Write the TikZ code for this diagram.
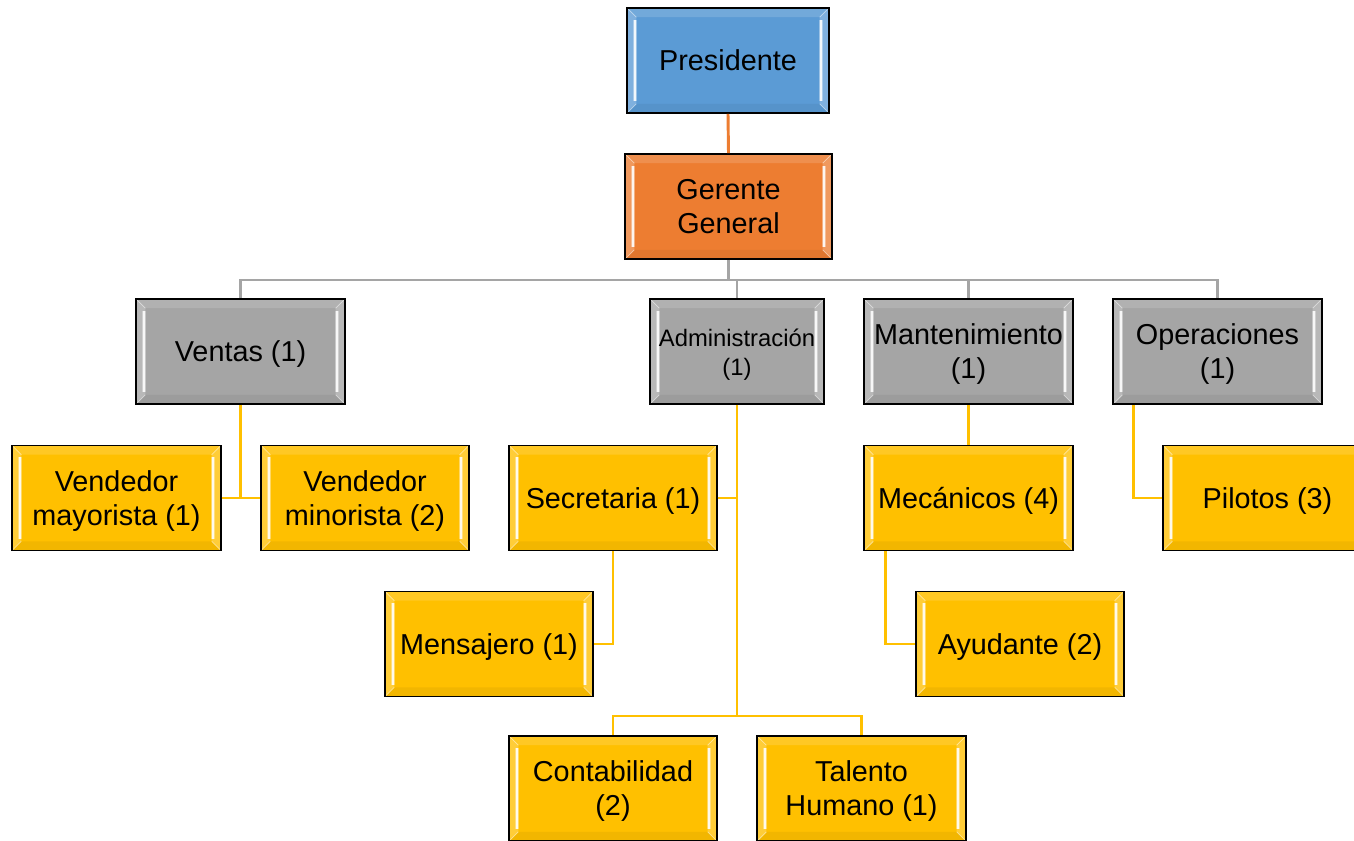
\documentclass[tikz,border=0pt]{standalone}
\usepackage{fontspec}
\setmainfont{Liberation Sans}
\usetikzlibrary{calc}
\definecolor{cblue}{HTML}{5B9BD5}
\definecolor{corange}{HTML}{ED7D31}
\definecolor{cgray}{HTML}{A5A5A5}
\definecolor{cyellow}{HTML}{FFC000}
\definecolor{cline}{HTML}{A5A5A5}
\newcommand\tx[1]{\raisebox{-2.4pt}[\height][\depth]{\begin{tabular}{@{}c@{}}#1\end{tabular}}}
\tikzset{
  bevelpic/.style={path picture={
    \path (path picture bounding box.north west) coordinate (bnw)
          (path picture bounding box.north east) coordinate (bne)
          (path picture bounding box.south west) coordinate (bsw)
          (path picture bounding box.south east) coordinate (bse);
    \fill[white,opacity=.14] (bnw) -- (bne) -- ([shift={(-7pt,-7pt)}]bne) -- ([shift={(7pt,-7pt)}]bnw) -- cycle;
    \fill[black,opacity=.05] (bsw) -- (bse) -- ([shift={(-7pt,7pt)}]bse) -- ([shift={(7pt,7pt)}]bsw) -- cycle;
    \fill[white,opacity=.22] (bnw) -- ([shift={(7pt,-7pt)}]bnw) -- ([shift={(7pt,7pt)}]bsw) -- (bsw) -- cycle;
    \fill[white,opacity=.22] (bne) -- ([shift={(-7pt,-7pt)}]bne) -- ([shift={(-7pt,7pt)}]bse) -- (bse) -- cycle;
    \draw[white,opacity=.35,line width=3.5pt] ([shift={(6pt,-9pt)}]bnw) -- ([shift={(6pt,9pt)}]bsw);
    \draw[white,opacity=.35,line width=3.5pt] ([shift={(-6pt,-9pt)}]bne) -- ([shift={(-6pt,9pt)}]bse);
    \draw[white,opacity=.85,line width=1.4pt] ([shift={(6pt,-9pt)}]bnw) -- ([shift={(6pt,9pt)}]bsw);
    \draw[white,opacity=.85,line width=1.4pt] ([shift={(-6pt,-9pt)}]bne) -- ([shift={(-6pt,9pt)}]bse);
    \draw[white,opacity=.5,line width=.6pt] (bnw) -- ([shift={(7pt,-7pt)}]bnw) (bsw) -- ([shift={(7pt,7pt)}]bsw)
      (bne) -- ([shift={(-7pt,-7pt)}]bne) (bse) -- ([shift={(-7pt,7pt)}]bse);
  }},
  box/.style={draw=black, line width=1.1pt, minimum height=79pt, inner sep=0pt,
    align=center, font=\fontsize{21.6}{25.5}\selectfont, bevelpic},
  blu/.style={box, fill=cblue},
  org/.style={box, fill=corange},
  gry/.style={box, fill=cgray},
  yel/.style={box, fill=cyellow},
  w/.style={minimum width=#1*0.75pt},
  yline/.style={draw=cyellow, line width=2.2pt},
  gline/.style={draw=cline, line width=2.2pt},
  oline/.style={draw=corange, line width=2.2pt},
}
\begin{document}
\begin{tikzpicture}[x=0.75pt,y=-0.75pt]
\useasboundingbox[fill=white] (0,0) rectangle (1354,840);
\coordinate (gbus) at (728.5,280);
\coordinate (abus) at (737,716);
\node[blu, w=202] (pres) at (728,60.5) {\tx{Presidente}};
\node[org, w=207] (ger) at (728.5,206.5) {\tx{Gerente\\General}};
\node[gry, w=209] (ven) at (240.5,351.5) {\tx{Ventas (1)}};
\node[gry, w=174, font=\fontsize{17.85}{21.75}\selectfont] (adm) at (737,351.5) {\tx{Administración\\(1)}};
\node[gry, w=209] (man) at (968.5,351.5) {\tx{Mantenimiento\\(1)}};
\node[gry, w=209] (ope) at (1217.5,351.5) {\tx{Operaciones\\(1)}};
\node[yel, w=209] (vmay) at (116.5,498) {\tx{Vendedor\\mayorista (1)}};
\node[yel, w=208] (vmin) at (365,498) {\tx{Vendedor\\minorista (2)}};
\node[yel, w=208] (sec) at (613,498) {\tx{Secretaria (1)}};
\node[yel, w=209] (mec) at (968.5,498) {\tx{Mecánicos (4)}};
\node[yel, w=209] (pil) at (1267.5,498) {\tx{Pilotos (3)}};
\node[yel, w=208] (men) at (489,644) {\tx{Mensajero (1)}};
\node[yel, w=208] (ayu) at (1020,644) {\tx{Ayudante (2)}};
\node[yel, w=208] (con) at (613,788.5) {\tx{Contabilidad\\(2)}};
\node[yel, w=209] (tal) at (861.5,788.5) {\tx{Talento\\Humano (1)}};
% connectors
\draw[oline] (pres.south) -- (ger.north);
\draw[gline] (ger.south) -- (gbus);
\draw[gline] (ven.north) |- (gbus) -| (ope.north);
\draw[gline] (adm.north) -- (adm.north |- gbus);
\draw[gline] (man.north) -- (man.north |- gbus);
\draw[yline] (ven.south) -- (ven.south |- vmay.east);
\draw[yline] (vmay.east) -- (vmin.west);
\draw[yline] (adm.south) -- (abus);
\draw[yline] (sec.east) -- (sec.east -| adm.south);
\draw[yline] (con.north) |- (abus) -| (tal.north);
\draw[yline] (sec.south) |- (men.east);
\draw[yline] (man.south) -- (mec.north);
\draw[yline] ([xshift=16.5pt]mec.south west) |- (ayu.west);
\draw[yline] ([xshift=15.75pt]ope.south west) |- (pil.west);
\end{tikzpicture}
\end{document}
